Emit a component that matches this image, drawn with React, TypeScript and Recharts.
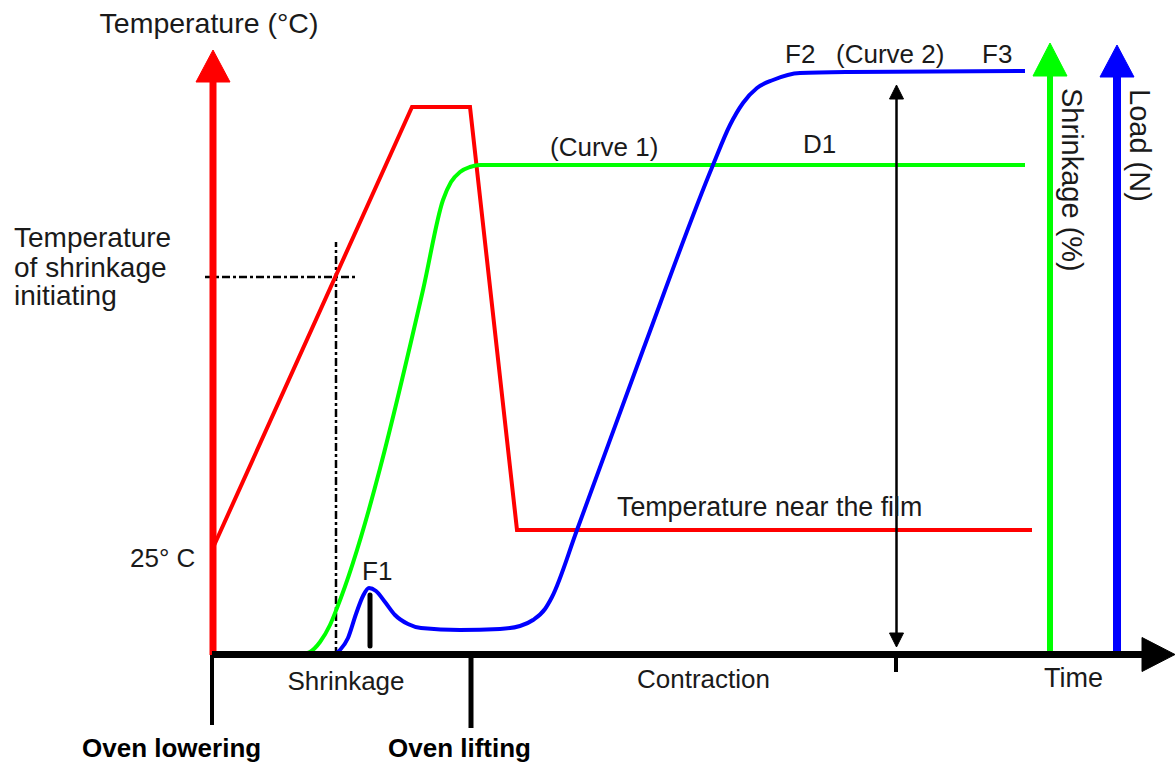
import React from "react";
import { ComposedChart, Line, XAxis, YAxis, ReferenceLine, ReferenceDot } from "recharts";

// Plot units: 1 unit = 1 px. x = time from oven lowering, y = height above the time axis.
const temperature = [
    { t: 0, v: 105 },
    { t: 200, v: 548 },
    { t: 258, v: 548 },
    { t: 305, v: 125 },
    { t: 820, v: 125 },
];

// Curve 1
const shrinkage = [
    { t: 88, v: 0 },
    { t: 98, v: 3 },
    { t: 108, v: 13 },
    { t: 118, v: 30 },
    { t: 125, v: 47 },
    { t: 211, v: 365 },
    { t: 231, v: 455 },
    { t: 239, v: 473 },
    { t: 248, v: 483 },
    { t: 258, v: 488 },
    { t: 268, v: 490 },
    { t: 813, v: 490 },
];

// Curve 2
const load = [
    { t: 121, v: 0 },
    { t: 128, v: 5 },
    { t: 136, v: 17 },
    { t: 144, v: 41 },
    { t: 151, v: 59 },
    { t: 157, v: 67 },
    { t: 164, v: 64 },
    { t: 173, v: 53 },
    { t: 183, v: 40 },
    { t: 196, v: 31 },
    { t: 209, v: 27 },
    { t: 248, v: 25 },
    { t: 288, v: 26 },
    { t: 308, v: 29 },
    { t: 321, v: 35 },
    { t: 333, v: 46 },
    { t: 340, v: 58 },
    { t: 365, v: 125 },
    { t: 431, v: 305 },
    { t: 501, v: 490 },
    { t: 518, v: 530 },
    { t: 531, v: 552 },
    { t: 545, v: 567 },
    { t: 561, v: 575 },
    { t: 588, v: 582 },
    { t: 638, v: 583 },
    { t: 813, v: 584 },
];

const labels = [
    { text: "Temperature (°C)", x: -3, y: 622, size: 28.5, anchor: "middle" },
    { text: "Temperature", x: -198, y: 408, size: 28 },
    { text: "of shrinkage", x: -198, y: 378, size: 28 },
    { text: "initiating", x: -198, y: 350, size: 28 },
    { text: "25° C", x: -82, y: 88 },
    { text: "F1", x: 150, y: 75 },
    { text: "Shrinkage", x: 134, y: -35, anchor: "middle" },
    { text: "Contraction", x: 425, y: -33 },
    { text: "Time", x: 832, y: -32, size: 27 },
    { text: "Oven lowering", x: -130, y: -102, bold: true },
    { text: "Oven lifting", x: 176, y: -102, bold: true },
    { text: "Temperature near the film", x: 405, y: 139, size: 26.8 },
    { text: "(Curve 1)", x: 338, y: 499 },
    { text: "D1", x: 591, y: 502 },
    { text: "F2", x: 573, y: 592 },
    { text: "(Curve 2)", x: 624, y: 592 },
    { text: "F3", x: 770, y: 592 },
    { text: "Shrinkage (%)", x: 850, y: 567, size: 29, rotate: true },
    { text: "Load (N)", x: 918, y: 566, size: 29, rotate: true },
];

const RED = "#ff0000";
const GREEN = "#00ff00";
const BLUE = "#0000ff";
const INK = "#1a1a1a";
const FONT = "'Liberation Sans', Arial, sans-serif";

// tip at (cx, cy)
const arrowHead = (dir: string, len: number, half: number, fill: string) => (p: any) => {
    const { cx, cy } = p;
    let pts = "";
    if (dir === "up") pts = `${cx},${cy} ${cx - half},${cy + len} ${cx + half},${cy + len}`;
    if (dir === "down") pts = `${cx},${cy} ${cx - half},${cy - len} ${cx + half},${cy - len}`;
    if (dir === "right") pts = `${cx},${cy} ${cx - len},${cy - half} ${cx - len},${cy + half}`;
    return <polygon points={pts} fill={fill} stroke={fill} strokeWidth={1} strokeLinejoin="round" />;
};

const textShape = (l: any) => (p: any) => {
    const common = {
        fontFamily: FONT,
        fontSize: l.size || 26,
        fontWeight: l.bold ? 700 : 400,
        fill: l.bold ? "#000" : INK,
        textAnchor: l.anchor || "start",
    };
    if (l.rotate) {
        return (
            <text x={0} y={0} transform={`translate(${p.cx},${p.cy}) rotate(90)`} {...common}>
                {l.text}
            </text>
        );
    }
    return (
        <text x={p.cx} y={p.cy} {...common}>
            {l.text}
        </text>
    );
};

const seg = (x1: number, y1: number, x2: number, y2: number, stroke: string, w: number, extra: any = {}) => (
    <ReferenceLine
        segment={[{ x: x1, y: y1 }, { x: x2, y: y2 }]}
        stroke={stroke}
        strokeWidth={w}
        ifOverflow="visible"
        {...extra}
    />
);

export default function App() {
    return (
        <div style={{ position: "absolute", left: 0, top: 0, background: "#fff" }}>
            <ComposedChart width={1176} height={764} margin={{ top: 50, right: 4, bottom: 109, left: 212 }}>
                <XAxis type="number" dataKey="t" domain={[0, 960]} allowDataOverflow hide />
                <YAxis type="number" domain={[0, 605]} allowDataOverflow hide />

                {labels.map((l, i) => (
                    <ReferenceDot key={"l" + i} x={l.x} y={l.y} r={1} ifOverflow="visible" shape={textShape(l)} />
                ))}

                {/* dash-dot guides for the initiating temperature */}
                {seg(-7, 378, 145, 378, "#000", 2.5, { strokeDasharray: "8 3 3 3" })}
                {seg(124, 0, 124, 413, "#000", 2.5, { strokeDasharray: "8 3 3 3" })}

                <Line data={temperature} dataKey="v" type="linear" stroke={RED} strokeWidth={4}
                    dot={false} isAnimationActive={false} />
                <Line data={shrinkage} dataKey="v" type="monotone" stroke={GREEN} strokeWidth={4}
                    dot={false} isAnimationActive={false} />
                <Line data={load} dataKey="v" type="monotone" stroke={BLUE} strokeWidth={4}
                    dot={false} isAnimationActive={false} />

                {/* axes */}
                {seg(1, 0, 1, 574, RED, 7)}
                <ReferenceDot x={1} y={605} r={1} ifOverflow="visible" shape={arrowHead("up", 32, 17, RED)} />
                {seg(838, 0, 838, 579, GREEN, 6)}
                <ReferenceDot x={838} y={612} r={1} ifOverflow="visible" shape={arrowHead("up", 33, 17, GREEN)} />
                {seg(905, 0, 905, 578, BLUE, 8)}
                <ReferenceDot x={905} y={610} r={1} ifOverflow="visible" shape={arrowHead("up", 32, 17, BLUE)} />
                {seg(0, 0.5, 931, 0.5, "#000", 7)}
                <ReferenceDot x={963} y={0.5} r={1} ifOverflow="visible" shape={arrowHead("right", 33, 17, "#000")} />

                {/* phase markers */}
                {seg(0, 0, 0, -70, "#000", 4)}
                {seg(259, 0, 259, -73, "#000", 5)}
                {seg(684, 0, 684, -17, "#000", 4)}

                {/* F1 */}
                {seg(158, 9, 158, 60, "#000", 5, { strokeLinecap: "round" })}

                {/* D1 / F3 span */}
                {seg(684.5, 20, 684.5, 556, "#000", 2.5)}
                <ReferenceDot x={684.5} y={570} r={1} ifOverflow="visible" shape={arrowHead("up", 14, 7, "#000")} />
                <ReferenceDot x={684.5} y={8} r={1} ifOverflow="visible" shape={arrowHead("down", 14, 7, "#000")} />
            </ComposedChart>
        </div>
    );
}
